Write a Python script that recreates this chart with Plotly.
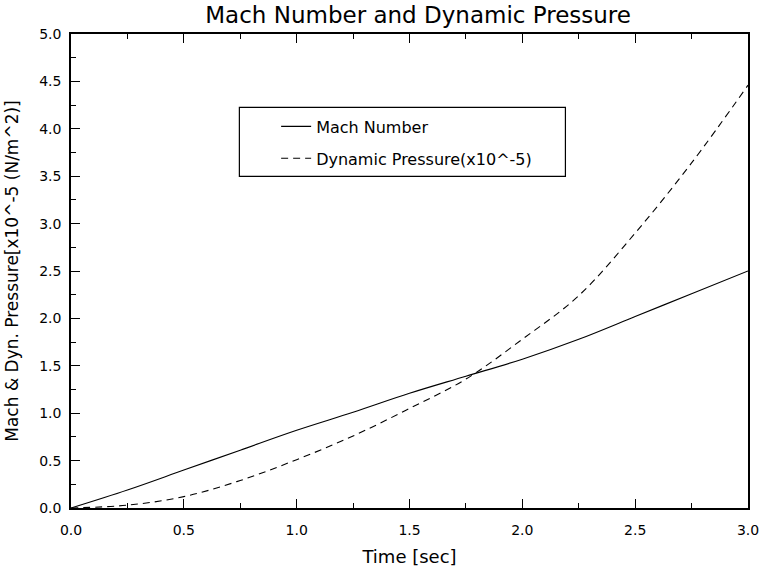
import plotly.graph_objects as go

# Flight time samples [s]
time_s = [0.0, 0.25, 0.5, 0.75, 1.0, 1.25, 1.5, 1.75, 2.0, 2.25, 2.5, 2.75, 3.0]
# Mach number
mach = [0.0, 0.19, 0.40, 0.61, 0.82, 1.01, 1.21, 1.39, 1.57, 1.78, 2.02, 2.26, 2.50]
# Dynamic pressure, scaled by 1e-5 [N/m^2]
dyn_pressure = [0.0, 0.03, 0.12, 0.29, 0.51, 0.76, 1.05, 1.36, 1.78, 2.24, 2.90, 3.64, 4.46]

x_ticks = [0.0, 0.5, 1.0, 1.5, 2.0, 2.5, 3.0]
y_ticks = [0.0, 0.5, 1.0, 1.5, 2.0, 2.5, 3.0, 3.5, 4.0, 4.5, 5.0]

FONT = "DejaVu Sans"

fig = go.Figure()
fig.add_trace(go.Scatter(
    x=time_s, y=mach, mode="lines", name="Mach Number",
    line=dict(color="black", width=1.1, shape="spline"),
    legend="legend", showlegend=True,
))
fig.add_trace(go.Scatter(
    x=time_s, y=dyn_pressure, mode="lines", name="Dynamic Pressure(x10^-5)",
    line=dict(color="black", width=1.1, dash="7px,5px", shape="spline"),
    legend="legend2", showlegend=True,
))

# frame around the two legend entries
fig.add_shape(type="rect", xref="paper", yref="paper",
              x0=0.2487, x1=0.7303, y0=0.6997, y1=0.8451,
              line=dict(color="black", width=1.2), fillcolor="rgba(0,0,0,0)")

legend_common = dict(
    bgcolor="rgba(0,0,0,0)", borderwidth=0,
    font=dict(family=FONT, size=16, color="black"),
    xanchor="left", yanchor="middle",
)

axis_common = dict(
    showgrid=False, zeroline=False, automargin=False,
    showline=True, linecolor="black", linewidth=1.6,
    ticks="inside", ticklen=9, tickwidth=1.2, tickcolor="black",
    tickfont=dict(family=FONT, size=14, color="black"),
    tickformat=".1f",
    minor=dict(ticks="inside", ticklen=5, tickwidth=1, tickcolor="black", dtick=0.25),
)

fig.update_layout(
    width=763, height=568,
    margin=dict(l=71, r=15, t=34, b=60),
    paper_bgcolor="white", plot_bgcolor="white",
    font=dict(family=FONT, color="black"),
    showlegend=True,
    title=dict(text="Mach Number and Dynamic Pressure",
               font=dict(family=FONT, size=23, color="black"),
               x=0.548, xanchor="center", y=0.973, yanchor="middle"),
    xaxis=dict(axis_common, range=[0, 3], tickvals=x_ticks, mirror="ticks",
               ticklabelstandoff=8,
               title=dict(text="Time [sec]", font=dict(family=FONT, size=18, color="black"),
                          standoff=14)),
    yaxis=dict(axis_common, range=[0, 5], tickvals=y_ticks, mirror=True,
               ticklabelstandoff=5,
               title=dict(text="Mach &amp; Dyn. Pressure[x10^-5 (N/m^2)]",
                          font=dict(family=FONT, size=17, color="black"),
                          standoff=16)),
    legend=dict(legend_common, x=0.303, y=0.805),
    legend2=dict(legend_common, x=0.303, y=0.7376),
)

fig.write_html("out.html")
